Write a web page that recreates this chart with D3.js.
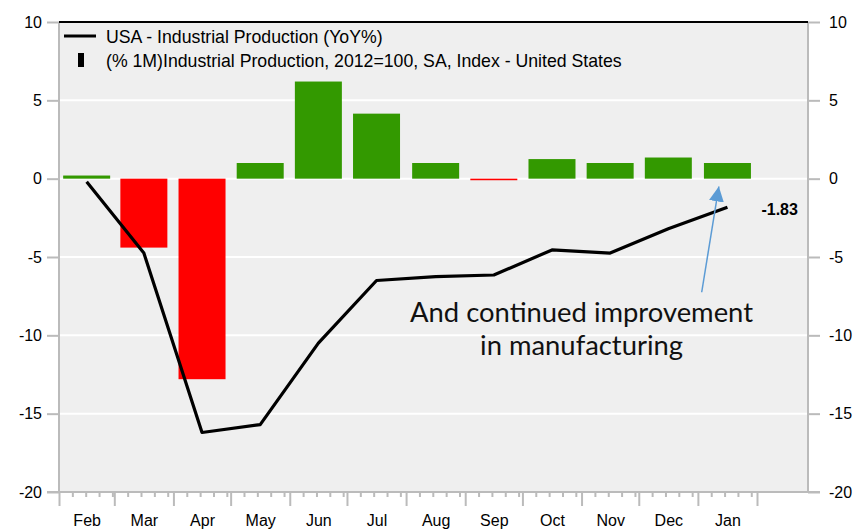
<!DOCTYPE html>
<html>
<head>
<meta charset="utf-8">
<script src="https://cdn.jsdelivr.net/npm/d3@7"></script>
<style>
  body { margin: 0; background: #fff; }
  svg { display: block; font-family: "Liberation Sans", Arial, sans-serif; }
</style>
</head>
<body>
<svg id="chart" width="854" height="532"></svg>
<script>
// monthly data, Feb 2020 - Jan 2021
const months = ["Feb", "Mar", "Apr", "May", "Jun", "Jul", "Aug", "Sep", "Oct", "Nov", "Dec", "Jan"];
const periods = ["2020-02", "2020-03", "2020-04", "2020-05", "2020-06", "2020-07",
                 "2020-08", "2020-09", "2020-10", "2020-11", "2020-12", "2021-01"];
const yoyValues = [-0.2, -4.75, -16.2, -15.7, -10.5, -6.5, -6.25, -6.15, -4.55, -4.75, -3.2, -1.83];
const momValues = [0.2, -4.4, -12.8, 1.0, 6.2, 4.15, 1.0, -0.1, 1.25, 1.0, 1.35, 1.0];
const yTicks = [10, 5, 0, -5, -10, -15, -20];
const legendLabels = ["USA - Industrial Production (YoY%)",
                      "(% 1M)Industrial Production, 2012=100, SA, Index - United States"];
const noteLines = ["And continued improvement", "in manufacturing"];

const svg = d3.select("#chart");
const plot = { left: 59, right: 808, top: 22, bottom: 492 };

const parse = d3.timeParse("%Y-%m");
const starts = periods.map(parse);
const ends = starts.map(d => d3.timeMonth.offset(d, 1));
const mids = starts.map((d, i) => new Date((+d + +ends[i]) / 2));

const x = d3.scaleTime()
    .domain([starts[0], ends[ends.length - 1]])
    .range([plot.left, 757]);
const y = d3.scaleLinear().domain([-20, 10]).range([plot.bottom, plot.top]);

// plot background + grid
svg.append("rect")
    .attr("x", plot.left).attr("y", plot.top)
    .attr("width", plot.right - plot.left).attr("height", plot.bottom - plot.top)
    .attr("fill", "#efefef");

svg.append("g").selectAll("line")
    .data(yTicks.filter(d => d > -20 && d < 10))
    .join("line")
    .attr("x1", plot.left).attr("x2", plot.right)
    .attr("y1", d => y(d)).attr("y2", d => y(d))
    .attr("stroke", "#fff").attr("stroke-width", 2);

// bars
const barW = 47;
svg.append("g").selectAll("rect")
    .data(momValues)
    .join("rect")
    .attr("x", (d, i) => x(mids[i]) - barW / 2)
    .attr("y", d => y(Math.max(0, d)))
    .attr("width", barW)
    .attr("height", d => Math.abs(y(d) - y(0)))
    .attr("fill", d => d >= 0 ? "#339900" : "#ff0000");

// line
svg.append("path")
    .datum(yoyValues)
    .attr("fill", "none")
    .attr("stroke", "#000")
    .attr("stroke-width", 3.2)
    .attr("stroke-linejoin", "round")
    .attr("d", d3.line().x((d, i) => x(mids[i])).y(d => y(d)));

svg.append("text")
    .attr("x", x(mids[11]) + 34)
    .attr("y", y(yoyValues[11]) + 8)
    .attr("font-size", 16).attr("font-weight", "bold")
    .text(yoyValues[11].toFixed(2));

// frame
const grey = "#bbbbbb";
svg.append("line").attr("x1", plot.left).attr("x2", plot.left)
    .attr("y1", plot.top).attr("y2", plot.bottom)
    .attr("stroke", grey).attr("stroke-width", 2);
svg.append("line").attr("x1", plot.right).attr("x2", plot.right)
    .attr("y1", plot.top).attr("y2", plot.bottom)
    .attr("stroke", grey).attr("stroke-width", 2);
svg.append("line").attr("x1", plot.left).attr("x2", plot.right)
    .attr("y1", plot.top).attr("y2", plot.top)
    .attr("stroke", "#000").attr("stroke-width", 2);

// y axes
function styleAxis(g) {
    g.select(".domain").remove();
    g.selectAll(".tick line").attr("stroke", grey).attr("stroke-width", 2);
    g.selectAll(".tick text").attr("fill", "#000").attr("font-size", 16)
        .attr("font-family", "Liberation Sans, Arial, sans-serif");
}
svg.append("g")
    .attr("transform", `translate(${plot.left},0)`)
    .call(d3.axisLeft(y).tickValues(yTicks).tickSize(12).tickPadding(5).tickFormat(d => String(d)))
    .call(styleAxis);
svg.append("g")
    .attr("transform", `translate(${plot.right},0)`)
    .call(d3.axisRight(y).tickValues(yTicks).tickSize(12).tickPadding(9).tickFormat(d => String(d)))
    .call(styleAxis);

// x axis: month boundaries, weekly minors, labels at mid-month
const monthTicks = starts.concat([ends[ends.length - 1]]);
const minorTicks = d3.timeDay.range(starts[0], ends[ends.length - 1])
    .filter(d => [8, 15, 22, 29].includes(d.getDate()));

svg.append("g")
    .attr("transform", `translate(0,${plot.bottom})`)
    .call(d3.axisBottom(x).tickValues(minorTicks).tickSize(5).tickFormat(""))
    .call(styleAxis);
svg.append("g")
    .attr("transform", `translate(0,${plot.bottom})`)
    .call(d3.axisBottom(x).tickValues(monthTicks).tickSize(14).tickFormat(""))
    .call(styleAxis);
svg.append("g")
    .attr("transform", `translate(0,${plot.bottom})`)
    .call(d3.axisBottom(x).tickValues(mids).tickSize(0).tickPadding(23)
        .tickFormat((d, i) => months[i]))
    .call(styleAxis);
svg.append("line").attr("x1", plot.left - 12).attr("x2", plot.right + 12)
    .attr("y1", plot.bottom).attr("y2", plot.bottom)
    .attr("stroke", grey).attr("stroke-width", 2);

// legend
const legend = svg.append("g").attr("font-size", 17.7);
legend.append("line").attr("x1", 64).attr("x2", 96).attr("y1", 36).attr("y2", 36)
    .attr("stroke", "#000").attr("stroke-width", 3);
legend.append("rect").attr("x", 78).attr("y", 53).attr("width", 6).attr("height", 14)
    .attr("fill", "#000");
legend.selectAll("text")
    .data(legendLabels)
    .join("text")
    .attr("x", 106)
    .attr("y", (d, i) => 42.5 + i * 24.5)
    .text(d => d);

// annotation
const blue = "#5b9bd5";
svg.append("defs").append("marker")
    .attr("id", "head")
    .attr("viewBox", "0 0 10 10")
    .attr("refX", 10).attr("refY", 5)
    .attr("markerWidth", 15).attr("markerHeight", 15)
    .attr("markerUnits", "userSpaceOnUse")
    .attr("orient", "auto")
    .append("path").attr("d", "M0,0L10,5L0,10Z").attr("fill", blue);

svg.append("line")
    .attr("x1", x(new Date(2021, 0, 3))).attr("y1", y(-7.25))
    .attr("x2", x(new Date(2021, 0, 12))).attr("y2", y(-0.5))
    .attr("stroke", blue).attr("stroke-width", 1.5)
    .attr("marker-end", "url(#head)");

svg.append("g")
    .attr("font-family", "Lato, 'Open Sans', sans-serif")
    .attr("font-size", 27.4)
    .attr("fill", "#111")
    .attr("text-anchor", "middle")
    .selectAll("text")
    .data(noteLines)
    .join("text")
    .attr("x", x(new Date(2020, 10, 1)))
    .attr("y", (d, i) => y(-9.15) + i * 33)
    .text(d => d);
</script>
</body>
</html>
